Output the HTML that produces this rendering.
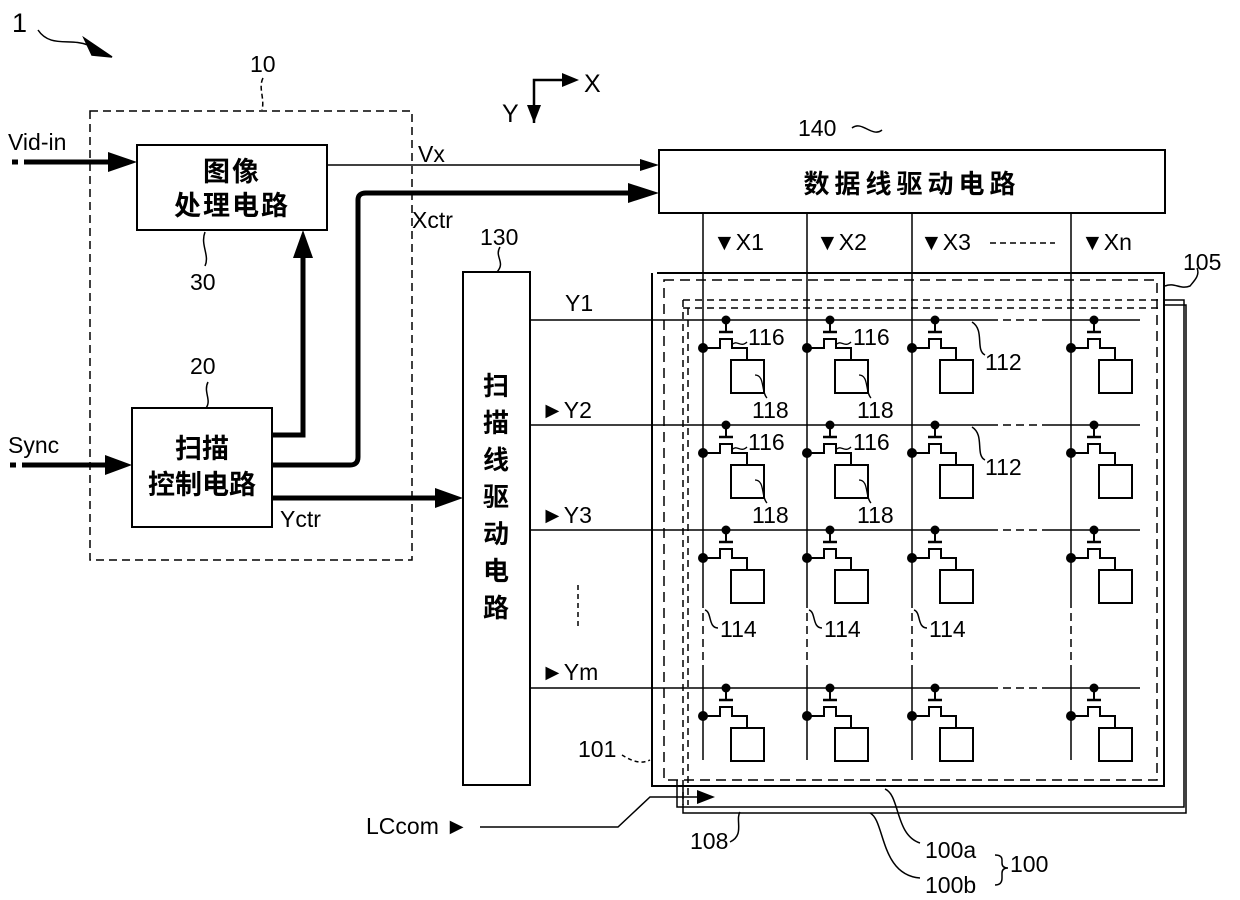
<!DOCTYPE html>
<html><head><meta charset="utf-8"><style>
html,body{margin:0;padding:0;background:#fff;}
svg{display:block;}
text{font-family:"Liberation Sans","Noto Sans CJK SC",sans-serif;fill:#000;}
.cjk{font-family:"Noto Sans CJK SC","WenQuanYi Zen Hei",sans-serif;font-weight:bold;}
</style></head><body>
<svg width="1240" height="900" viewBox="0 0 1240 900" xmlns="http://www.w3.org/2000/svg">
<defs>
<g id="cell" fill="none" stroke="#000" stroke-width="2">
<circle cx="23" cy="0" r="4.5" fill="#000" stroke="none"/>
<line x1="23" y1="0" x2="23" y2="11"/>
<line x1="16" y1="12" x2="30" y2="12" stroke-width="2.5"/>
<circle cx="0" cy="28" r="5" fill="#000" stroke="none"/>
<polyline points="0,28 17,28 17,19 29,19 29,28 44,28 44,40"/>
<rect x="28" y="40" width="33" height="33"/>
</g>
<g id="lead" fill="none" stroke="#000" stroke-width="1.3">
<path d="M30,24 C34,20 38,28 44,22"/>
<path d="M52,55 C62,55 58,72 64,78"/>
</g>
</defs>
<g fill="none" stroke="#000" stroke-width="1.5">
<path d="M38,30 C50,48 70,38 88,45"/>
<path d="M84,38 L112,57 L92,55 z" fill="#000"/>
<rect x="90" y="111" width="322" height="449" stroke-dasharray="8,5"/>
<path d="M263,78 C258,88 265,98 262,110" stroke-dasharray="5,3"/>
<rect x="137" y="145" width="190" height="85" stroke-width="2"/>
<path d="M205,232 C200,245 210,255 205,266"/>
<rect x="132" y="408" width="140" height="119" stroke-width="2"/>
<path d="M208,382 C203,392 212,400 206,408"/>
<line x1="12" y1="162" x2="18" y2="162" stroke-width="5"/>
<line x1="24" y1="162" x2="115" y2="162" stroke-width="5"/>
<path d="M108,152 L137,162 L108,172z" fill="#000" stroke="none"/>
<line x1="10" y1="465" x2="16" y2="465" stroke-width="5"/>
<line x1="22" y1="465" x2="112" y2="465" stroke-width="5"/>
<path d="M105,455 L132,465 L105,475z" fill="#000" stroke="none"/>
<path d="M272,435 L303,435 L303,255" stroke-width="5"/>
<path d="M293,258 L303,230 L313,258z" fill="#000" stroke="none"/>
<path d="M272,465 L350,465 Q358,465 358,457 L358,200 Q358,193 366,193 L635,193" stroke-width="5"/>
<path d="M628,183 L659,193 L628,203z" fill="#000" stroke="none"/>
<line x1="327" y1="165" x2="640" y2="165"/>
<path d="M640,159 L659,165 L640,171z" fill="#000" stroke="none"/>
<line x1="272" y1="498" x2="440" y2="498" stroke-width="5"/>
<path d="M435,488 L463,498 L435,508z" fill="#000" stroke="none"/>
<path d="M534,123 L534,80 L565,80" stroke-width="2.5"/>
<path d="M562,73 L579,80 L562,87z" fill="#000" stroke="none"/>
<path d="M527,105 L534,123 L541,105z" fill="#000" stroke="none"/>
<rect x="659" y="150" width="506" height="63" stroke-width="2"/>
<path d="M852,128 C862,120 872,138 882,130"/>
<rect x="463" y="272" width="67" height="513" stroke-width="2"/>
<path d="M500,247 C494,257 506,262 497,272"/>
<line x1="530" y1="320" x2="990" y2="320"/><line x1="990" y1="320" x2="1050" y2="320" stroke-dasharray="8,5"/><line x1="1050" y1="320" x2="1140" y2="320"/>
<line x1="530" y1="425" x2="990" y2="425"/><line x1="990" y1="425" x2="1050" y2="425" stroke-dasharray="8,5"/><line x1="1050" y1="425" x2="1140" y2="425"/>
<line x1="530" y1="530" x2="990" y2="530"/><line x1="990" y1="530" x2="1050" y2="530" stroke-dasharray="8,5"/><line x1="1050" y1="530" x2="1140" y2="530"/>
<line x1="530" y1="688" x2="990" y2="688"/><line x1="990" y1="688" x2="1050" y2="688" stroke-dasharray="8,5"/><line x1="1050" y1="688" x2="1140" y2="688"/>
<line x1="578" y1="585" x2="578" y2="630" stroke-dasharray="5,4"/>
<path d="M703,213 V600 M807,213 V600 M912,213 V600 M1071,213 V600 M703,665 V760 M807,665 V760 M912,665 V760 M1071,665 V760"/>
<path d="M703,600 V665 M807,600 V665 M912,600 V665 M1071,600 V665" stroke-dasharray="8,5"/>
<line x1="990" y1="243" x2="1055" y2="243" stroke-dasharray="6,4"/>
<path d="M657,273 H1164 V786 H652 V273" stroke-width="2"/>
<path d="M664,280 H1157 V780 H664 Z" stroke-dasharray="10,6"/>
<path d="M683,300 H1160 M683,308 H1160 M683,300 V805 M688,308 V805" stroke-dasharray="7,5"/>
<path d="M1164,300 H1184 V807 H677 V780" stroke-width="1.5"/>
<path d="M1164,305 H1186 V813 H683 V786" stroke-width="1.5"/>
<path d="M480,827 H618 L650,797 H700"/>
<path d="M697,790 L715,797 L697,804z" fill="#000" stroke="none"/>
<path d="M1165,286 C1175,282 1180,290 1190,286 C1195,280 1200,275 1197,268"/>
<path d="M885,789 C900,795 895,835 920,843"/>
<path d="M870,813 C885,820 880,875 920,878"/>
<path d="M740,812 C735,820 745,835 730,842"/>
<path d="M622,755 C630,760 640,765 650,760" stroke-dasharray="4,3"/>
<path d="M995,855 Q1002,855 1002,860 V863 Q1002,868 1008,868 Q1002,868 1002,873 V878 Q1002,885 995,885"/>
<path d="M972,322 C985,330 975,350 985,355"/>
<path d="M972,427 C985,435 975,455 985,460"/>
<path d="M705,610 C712,612 708,628 718,628"/>
<path d="M809,610 C816,612 812,628 822,628"/>
<path d="M914,610 C921,612 917,628 927,628"/>
</g>
<g>
<use href="#cell" x="703" y="320"/><use href="#cell" x="807" y="320"/><use href="#cell" x="912" y="320"/><use href="#cell" x="1071" y="320"/>
<use href="#cell" x="703" y="425"/><use href="#cell" x="807" y="425"/><use href="#cell" x="912" y="425"/><use href="#cell" x="1071" y="425"/>
<use href="#cell" x="703" y="530"/><use href="#cell" x="807" y="530"/><use href="#cell" x="912" y="530"/><use href="#cell" x="1071" y="530"/>
<use href="#cell" x="703" y="688"/><use href="#cell" x="807" y="688"/><use href="#cell" x="912" y="688"/><use href="#cell" x="1071" y="688"/>
<use href="#lead" x="703" y="320"/><use href="#lead" x="807" y="320"/>
<use href="#lead" x="703" y="425"/><use href="#lead" x="807" y="425"/>
</g>
<g font-size="23">
<text x="12" y="32" font-size="27">1</text>
<text x="250" y="72">10</text>
<text x="8" y="150">Vid-in</text>
<text x="8" y="453">Sync</text>
<text x="190" y="290">30</text>
<text x="190" y="374">20</text>
<text x="418" y="162">Vx</text>
<text x="412" y="228">Xctr</text>
<text x="280" y="527">Yctr</text>
<text x="584" y="92" font-size="25">X</text>
<text x="502" y="122" font-size="25">Y</text>
<text x="798" y="136">140</text>
<text x="480" y="245">130</text>
<text x="1183" y="270">105</text>
<text x="565" y="311">Y1</text>
<text x="541" y="418">►Y2</text>
<text x="541" y="523">►Y3</text>
<text x="541" y="680">►Ym</text>
<text x="713" y="250">▼X1</text>
<text x="816" y="250">▼X2</text>
<text x="920" y="250">▼X3</text>
<text x="1081" y="250">▼Xn</text>
<text x="366" y="834">LCcom ►</text>
<text x="578" y="757">101</text>
<text x="690" y="849">108</text>
<text x="925" y="858">100a</text>
<text x="925" y="893">100b</text>
<text x="1010" y="872">100</text>
<text x="748" y="345">116</text><text x="853" y="345">116</text>
<text x="748" y="450">116</text><text x="853" y="450">116</text>
<text x="752" y="418">118</text><text x="857" y="418">118</text>
<text x="752" y="523">118</text><text x="857" y="523">118</text>
<text x="985" y="370">112</text><text x="985" y="475">112</text>
<text x="720" y="637">114</text><text x="824" y="637">114</text><text x="929" y="637">114</text>
</g>
<g class="cjk">
<text x="232" y="181" font-size="27" text-anchor="middle" letter-spacing="2">图像</text>
<text x="232" y="215" font-size="27" text-anchor="middle" letter-spacing="2">处理电路</text>
<text x="202" y="458" font-size="27" text-anchor="middle">扫描</text>
<text x="202" y="494" font-size="27" text-anchor="middle">控制电路</text>
<text x="912" y="193" font-size="26" text-anchor="middle" letter-spacing="5">数据线驱动电路</text>
<text x="496" y="395" font-size="26" text-anchor="middle">扫</text>
<text x="496" y="432" font-size="26" text-anchor="middle">描</text>
<text x="496" y="469" font-size="26" text-anchor="middle">线</text>
<text x="496" y="506" font-size="26" text-anchor="middle">驱</text>
<text x="496" y="543" font-size="26" text-anchor="middle">动</text>
<text x="496" y="580" font-size="26" text-anchor="middle">电</text>
<text x="496" y="617" font-size="26" text-anchor="middle">路</text>
</g>
</svg>
</body></html>
